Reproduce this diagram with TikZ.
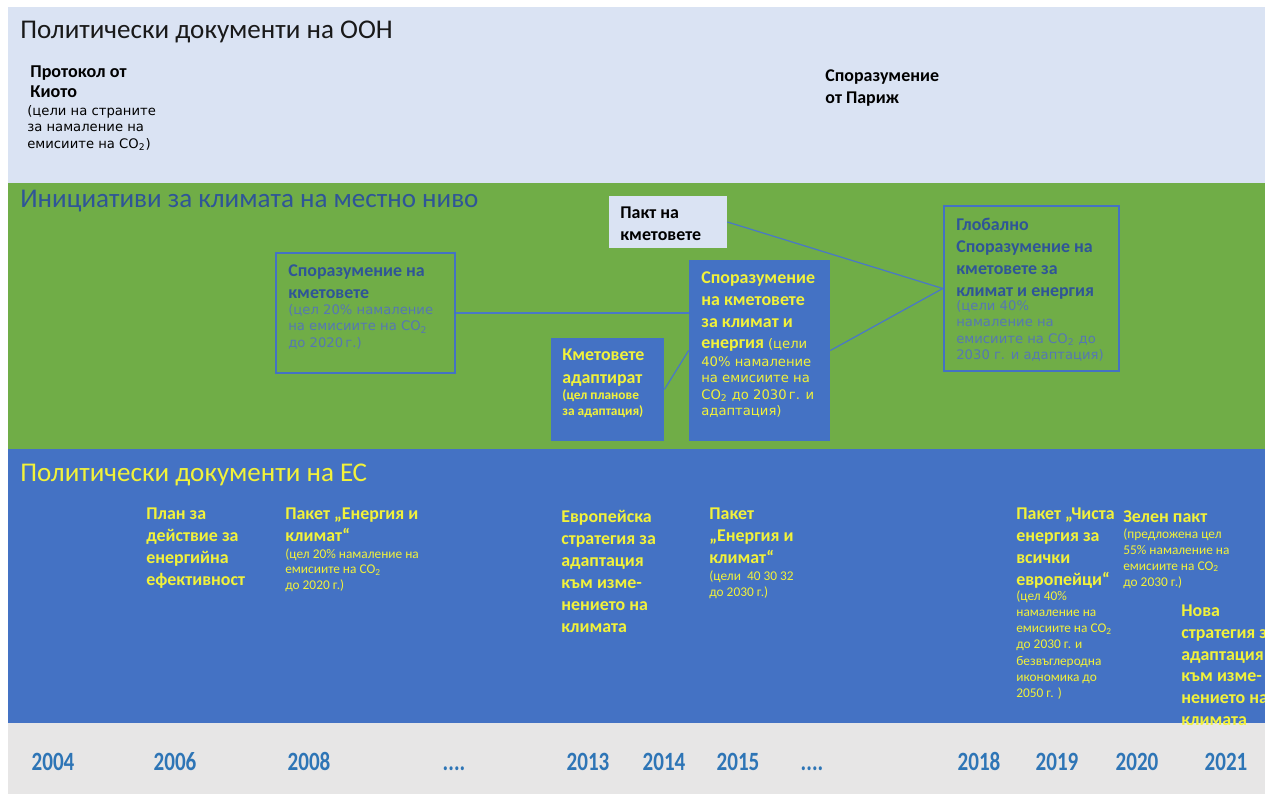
\documentclass[tikz,border=0pt]{standalone}
\usepackage{fontspec}
\setmainfont{Carlito}
\newfontfamily\vfont{DejaVu Sans}
\usetikzlibrary{fit}
\definecolor{unband}{HTML}{DAE3F3}
\definecolor{locband}{HTML}{70AD47}
\definecolor{euband}{HTML}{4472C4}
\definecolor{yrband}{HTML}{E7E6E6}
\definecolor{darkblue}{HTML}{2F5597}
\definecolor{softblue}{HTML}{5577B4}
\definecolor{euyellow}{HTML}{F2F23A}
\definecolor{yrblue}{HTML}{2E75B6}
\definecolor{linkblue}{HTML}{4A78C6}
\newcommand{\cotwo}{CO\textsubscript{2}}
\newcommand{\fourdots}{....}
\newcommand{\ttlfont}{\fontsize{15.4}{19}\selectfont}
\newcommand{\hdfont}{\bfseries\fontsize{10.2}{12.5}\selectfont}
\newcommand{\vnote}{\vfont\fontsize{7.5}{9.4}\selectfont}
\newcommand{\cnote}{\fontsize{7.6}{8.8}\selectfont}
\newcommand{\yrtxt}[1]{\scalebox{1}[1.25]{#1}}
\tikzset{
  txt/.style={anchor=north west, inner sep=0pt, align=left},
  obox/.style={draw=euband, line width=0.9pt, inner sep=0pt},
  fbox/.style={fill=euband, inner sep=0pt},
  link/.style={draw=linkblue, line width=0.7pt},
  yrlbl/.style={anchor=base, text=yrblue, font=\bfseries\fontsize{12}{14}\selectfont, inner sep=0pt}
}
\begin{document}
\begin{tikzpicture}[x=0.02cm, y=-0.02cm]
  \useasboundingbox (0,0) rectangle (1265,794);
  \fill[white] (0,0) rectangle (1265,794);
  % bands
  \fill[unband] (8,7) rectangle (1265,183);
  \fill[locband] (8,183) rectangle (1265,449);
  \fill[euband] (8,449) rectangle (1265,723);
  \fill[yrband] (8,723) rectangle (1265,794);

  % UN documents
  \node[txt, text=black!90] (untitle) at (20,21) {\ttlfont Политически документи на ООН};
  \node[txt, font=\bfseries\fontsize{10.3}{11.7}\selectfont] (kyoto) at (30,65) {Протокол от\\Киото};
  \node[txt, font=\vnote] (kyotonote) at (27,105) {(цели на страните\\за намаление на\\емисиите на \cotwo)};
  \node[txt, font=\hdfont] (paris) at (825,69) {Споразумение\\от Париж};

  % local initiatives
  \node[txt, text=darkblue] (loctitle) at (20,190) {\ttlfont Инициативи за климата на местно ниво};
  \node[fit={(609,196) (727,248)}, fill=unband, inner sep=0pt] (pakt) {};
  \node[txt, font=\hdfont] (pakttxt) at (620,207) {Пакт на\\кметовете};
  \node[obox, fit={(276,253) (455,373)}] (spor) {};
  \node[txt, text=darkblue, font=\hdfont] (sportxt) at (288,264) {Споразумение на\\кметовете};
  \node[txt, text=softblue, font=\vnote] (spornote) at (288,304)
    {(цел 20\% намаление\\на емисиите на \cotwo\\до 2020\,г.)};
  \node[fbox, fit={(551,338) (664,441)}] (adapt) {};
  \node[txt, text=euyellow, font=\bfseries\fontsize{10.2}{13}\selectfont] (adapttxt) at (562,349)
    {Кметовете\\адаптират};
  \node[txt, text=euyellow, font=\bfseries\fontsize{7.6}{9.1}\selectfont] (adaptnote) at (562,389)
    {(цел планове\\за адаптация)};
  \node[fbox, fit={(689,260) (830,441)}] (kie) {};
  \node[txt, text=euyellow, font=\hdfont] (kietxt) at (701,271)
    {Споразумение\\на кметовете\\за климат и\\енергия {\mdseries\vnote(цели}};
  \node[txt, text=euyellow, font=\vnote] (kienote) at (701,356)
    {40\% намаление\\на емисиите на\\\cotwo{} до 2030\,г. и\\адаптация)};
  \node[obox, line width=1.4pt, fit={(944,206) (1119,371)}] (glob) {};
  \node[txt, text=darkblue, font=\hdfont] (globtxt) at (956,218)
    {Глобално\\Споразумение на\\кметовете за\\климат и енергия};
  \node[txt, text=softblue, font=\vnote] (globnote) at (956,300)
    {(цели 40\%\\намаление на\\емисиите на \cotwo{} до\\2030 г. и адаптация)};
  \draw[link] (spor.east) -- (spor.east -| kie.west);
  \draw[link] (adapt.east) -- (kie.west);
  \draw[link] (pakt.east) -- (glob.west);
  \draw[link] (kie.east) -- (glob.west);

  % EU documents
  \node[txt, text=euyellow] (eutitle) at (20,464) {\ttlfont Политически документи на ЕС};
  \node[txt, text=euyellow, font=\hdfont] (plan) at (146,508)
    {План за\\действие за\\енергийна\\ефективност};
  \node[txt, text=euyellow, font=\hdfont] (pack08) at (285,508) {Пакет „Енергия и\\климат“};
  \node[txt, text=euyellow, font=\cnote] (pack08note) at (285,548)
    {(цел 20\% намаление на\\емисиите на \cotwo\\до 2020 г.)};
  \node[txt, text=euyellow, font=\hdfont] (eustrat) at (561,510)
    {Европейска\\стратегия за\\адаптация\\към изме-\\нението на\\климата};
  \node[txt, text=euyellow, font=\hdfont] (pack15) at (709,508) {Пакет\\„Енергия и\\климат“};
  \node[txt, text=euyellow, font=\fontsize{7.6}{9.6}\selectfont] (pack15note) at (709,570)
    {(цели\ \ 40 30 32\\до 2030 г.)};
  \node[txt, text=euyellow, font=\hdfont] (clean) at (1016,508)
    {Пакет „Чиста\\енергия за\\всички\\европейци“};
  \node[txt, text=euyellow, font=\fontsize{7.6}{9.25}\selectfont] (cleannote) at (1016,590)
    {(цел 40\%\\намаление на\\емисиите на \cotwo\\до 2030 г. и\\безвъглеродна\\икономика до\\2050 г. )};
  \node[txt, text=euyellow, font=\hdfont] (greendeal) at (1123,510) {Зелен пакт};
  \node[txt, text=euyellow, font=\fontsize{7.6}{9.1}\selectfont] (greennote) at (1123,528)
    {(предложена цел\\55\% намаление на\\емисиите на \cotwo\\до 2030 г.)};
  \node[txt, text=euyellow, font=\bfseries\fontsize{10.2}{12.3}\selectfont] (newstrat) at (1181,605)
    {Нова\\стратегия за\\адаптация\\към изме-\\нението на\\климата};

  % years
  \foreach \xx/\lbl/\nm in {53/2004/y2004, 175/2006/y2006, 309/2008/y2008, 454/\fourdots/dotsa,
      588/2013/y2013, 664/2014/y2014, 738/2015/y2015, 812/\fourdots/dotsb,
      979/2018/y2018, 1057/2019/y2019, 1137/2020/y2020, 1226/2021/y2021}
    \node[yrlbl] (\nm) at (\xx,770) {\yrtxt{\lbl}};
\end{tikzpicture}
\end{document}
